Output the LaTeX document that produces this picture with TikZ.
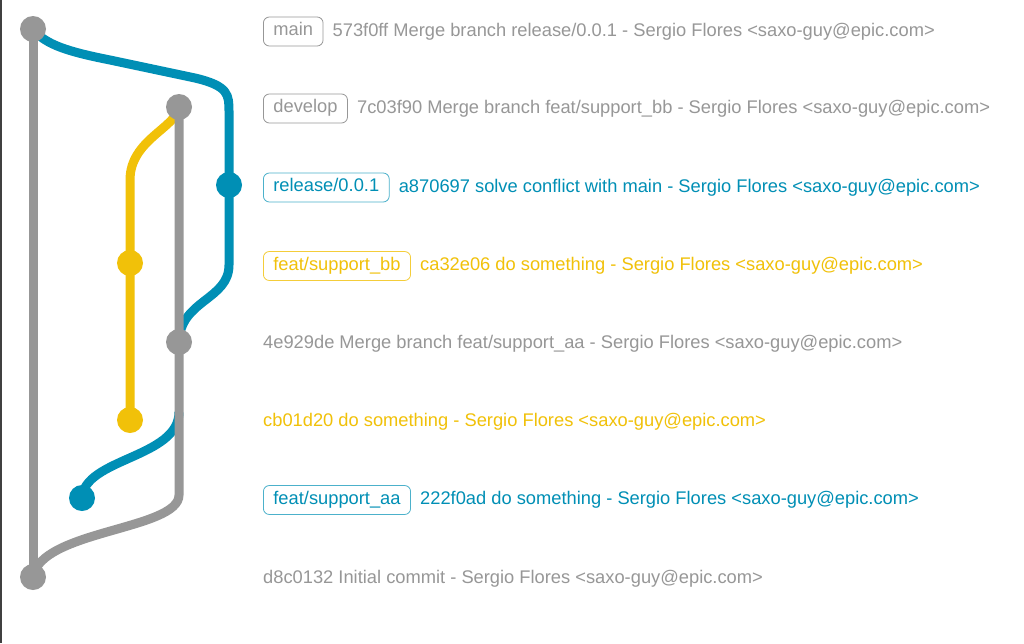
\documentclass[tikz,border=0pt]{standalone}
\usepackage{fontspec}
\setmainfont{Liberation Sans}
\definecolor{cgray}{HTML}{979797}
\definecolor{cblue}{HTML}{008FB5}
\definecolor{cyel}{HTML}{F1C109}
\begin{document}
\begin{tikzpicture}[x=1pt,y=-1pt,
  branch/.style={line width=9pt},
  commit/.style={circle, minimum size=26pt, inner sep=0pt},
  tag/.style={draw, rounded corners=6pt, line width=0.8pt, inner xsep=10pt, inner ysep=0pt,
    text height=13pt, text depth=4.5pt, minimum height=29pt, anchor=west, font=\fontsize{18.3}{20}\selectfont},
  msg/.style={anchor=west, inner sep=0pt, font=\fontsize{18.3}{20}\selectfont}]
\useasboundingbox (0,0) rectangle (1024,643);
\fill[white] (0,0) rectangle (1024,643);
\draw[line width=1.5pt, black!75] (0.75,0) -- (0.75,643);

% commits
\coordinate (c1) at (33,29);
\coordinate (c2) at (179,107);
\coordinate (c3) at (229,185);
\coordinate (c4) at (130,263);
\coordinate (c5) at (179,342);
\coordinate (c6) at (130,420);
\coordinate (c7) at (82,498);
\coordinate (c8) at (33,577);

% branch lines
\draw[branch, cgray] (c8) -- (c1);
\draw[branch, cblue] (c1) .. controls (45,45) and (70,52) .. (110,60) -- (195,78) .. controls (229,86) and (229,95) .. (229,112) -- (c3) -- (229,265) .. controls (229,300) and (180,300) .. (c5);
\draw[branch, cyel] (c2) .. controls (176,128) and (130,140) .. (130,180) -- (c4) -- (c6);
\draw[branch, cblue] (179,412) .. controls (179,458) and (84,458) .. (c7);
\draw[branch, cgray] (c2) -- (179,495) .. controls (179,530) and (40,530) .. (c8);

% dots
\node[commit, fill=cgray] (n1) at (c1) {};
\node[commit, fill=cgray] (n2) at (c2) {};
\node[commit, fill=cblue] (n3) at (c3) {};
\node[commit, fill=cyel] (n4) at (c4) {};
\node[commit, fill=cgray] (n5) at (c5) {};
\node[commit, fill=cyel] (n6) at (c6) {};
\node[commit, fill=cblue] (n7) at (c7) {};
\node[commit, fill=cgray] (n8) at (c8) {};

% labels
\node[tag, draw=cgray, text=cgray] (t1) at (263,31.5) {main};
\node[msg, text=cgray] (m1) at ([xshift=9pt]t1.east) {573f0ff Merge branch release/0.0.1 - Sergio Flores <saxo-guy@epic.com>};
\node[tag, draw=cgray, text=cgray] (t2) at (263,108.5) {develop};
\node[msg, text=cgray] (m2) at ([xshift=9pt]t2.east) {7c03f90 Merge branch feat/support\_bb - Sergio Flores <saxo-guy@epic.com>};
\node[tag, draw=cblue!70, text=cblue] (t3) at (263,187.5) {release/0.0.1};
\node[msg, text=cblue] (m3) at ([xshift=9pt]t3.east) {a870697 solve conflict with main - Sergio Flores <saxo-guy@epic.com>};
\node[tag, draw=cyel!80, text=cyel] (t4) at (263,266) {feat/support\_bb};
\node[msg, text=cyel] (m4) at ([xshift=9pt]t4.east) {ca32e06 do something - Sergio Flores <saxo-guy@epic.com>};
\node[msg, text=cgray] (m5) at (263,343.5) {4e929de Merge branch feat/support\_aa - Sergio Flores <saxo-guy@epic.com>};
\node[msg, text=cyel] (m6) at (263,422) {cb01d20 do something - Sergio Flores <saxo-guy@epic.com>};
\node[tag, draw=cblue!70, text=cblue] (t7) at (263,500) {feat/support\_aa};
\node[msg, text=cblue] (m7) at ([xshift=9pt]t7.east) {222f0ad do something - Sergio Flores <saxo-guy@epic.com>};
\node[msg, text=cgray] (m8) at (263,579) {d8c0132 Initial commit - Sergio Flores <saxo-guy@epic.com>};
\end{tikzpicture}
\end{document}
